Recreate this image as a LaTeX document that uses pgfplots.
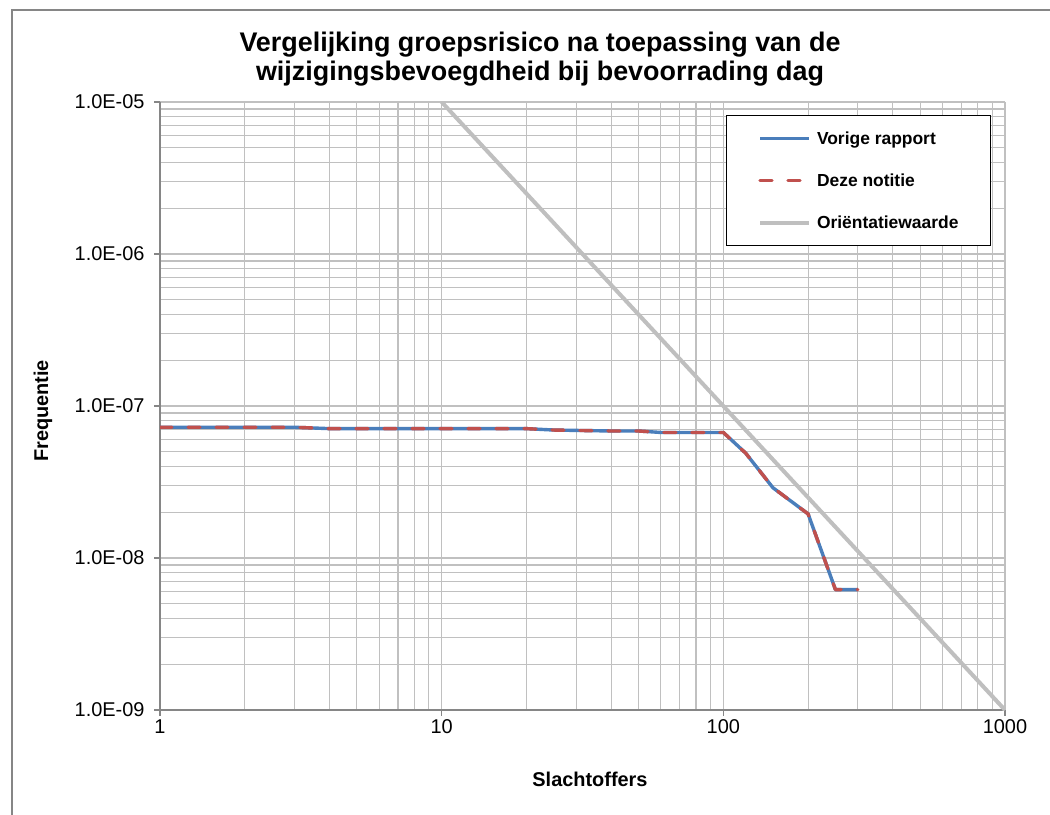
\documentclass[border=0pt]{standalone}
\usepackage{pgfplots}
\pgfplotsset{compat=1.18}
\usepackage{fontspec}
\setmainfont{Liberation Sans}

\definecolor{blueline}{RGB}{74,126,187}
\definecolor{redline}{RGB}{192,80,77}
\definecolor{orient}{RGB}{191,191,191}
\definecolor{gridgray}{RGB}{192,192,192}
\definecolor{axisgray}{RGB}{134,134,134}

\begin{document}
\begin{tikzpicture}
\useasboundingbox (0bp,0bp) rectangle (1050bp,815bp);
\draw[axisgray, line width=1.2bp] (12bp,0bp) -- (12bp,805bp) -- (1050bp,805bp);

\node[font={\fontsize{27}{29}\selectfont\bfseries}, align=center] at (540bp,756bp)
  {Vergelijking groepsrisico na toepassing van de\\wijzigingsbevoegdheid bij bevoorrading dag};

\begin{axis}[
    at={(160bp,105bp)}, anchor=south west,
    scale only axis,
    width=845bp, height=608bp,
    xmode=log, ymode=log,
    xmin=1, xmax=1000,
    ymin=1e-9, ymax=1e-5,
    xtick={1,10,100,1000},
    xticklabels={1,10,100,1000},
    ytick={1e-9,1e-8,1e-7,1e-6,1e-5},
    yticklabels={1.0E-09,1.0E-08,1.0E-07,1.0E-06,1.0E-05},
    minor xtick={2,3,4,5,6,7,8,9,20,30,40,50,60,70,80,90,200,300,400,500,600,700,800,900},
    minor ytick={2e-9,3e-9,4e-9,5e-9,6e-9,7e-9,8e-9,9e-9,
                 2e-8,3e-8,4e-8,5e-8,6e-8,7e-8,8e-8,9e-8,
                 2e-7,3e-7,4e-7,5e-7,6e-7,7e-7,8e-7,9e-7,
                 2e-6,3e-6,4e-6,5e-6,6e-6,7e-6,8e-6,9e-6},
    grid=both,
    major grid style={gridgray, line width=1.1bp},
    minor grid style={gridgray, line width=1.1bp},
    axis x line*=bottom, axis y line*=left,
    axis line style={axisgray, line width=1.2bp, -},
    tick align=outside,
    major tick length=6bp, minor tick length=0bp,
    tick style={axisgray, line width=1.2bp},
    ticklabel style={font=\fontsize{20}{24}\selectfont},
    yticklabel style={xshift=-6bp},
    legend style={
        at={(0.9834,0.9786)}, anchor=north east,
        draw=black, line width=1bp, fill=white,
        font={\fontsize{17.5}{20}\selectfont\bfseries},
        nodes={inner sep=0pt},
        inner xsep=32bp, inner ysep=16bp,
        row sep=28bp,
        /tikz/every odd column/.append style={column sep=6bp},
    },
    legend cell align=left,
    legend image code/.code={\draw[#1] (0bp,0bp) -- (49bp,0bp);},
]

\addplot[blueline, line width=3.4bp, line join=round] coordinates {
    (1,7.25e-8)(3,7.25e-8)(4,7.1e-8)(10,7.1e-8)(20,7.1e-8)(25,6.95e-8)
    (40,6.85e-8)(50,6.85e-8)(60,6.7e-8)(100,6.7e-8)(120,4.9e-8)
    (150,2.9e-8)(200,1.95e-8)(250,6.2e-9)(300,6.2e-9)
};
\addlegendentry{Vorige rapport}

\addplot[redline, line width=3.4bp, line cap=round, line join=round, dash pattern=on 12bp off 16bp] coordinates {
    (1,7.25e-8)(3,7.25e-8)(4,7.1e-8)(10,7.1e-8)(20,7.1e-8)(25,6.95e-8)
    (40,6.85e-8)(50,6.85e-8)(60,6.7e-8)(100,6.7e-8)(120,4.9e-8)
    (150,2.9e-8)(200,1.95e-8)(250,6.2e-9)(300,6.2e-9)
};
\addlegendentry{Deze notitie}

\addplot[orient, line width=4bp] coordinates {
    (10,1e-5)(1000,1e-9)
};
\addlegendentry{Oriëntatiewaarde}

\end{axis}

\node[font={\fontsize{20}{24}\selectfont\bfseries}, rotate=90] at (43bp,404bp) {Frequentie};
\node[font={\fontsize{20}{24}\selectfont\bfseries}] at (590bp,36bp) {Slachtoffers};
\end{tikzpicture}
\end{document}
